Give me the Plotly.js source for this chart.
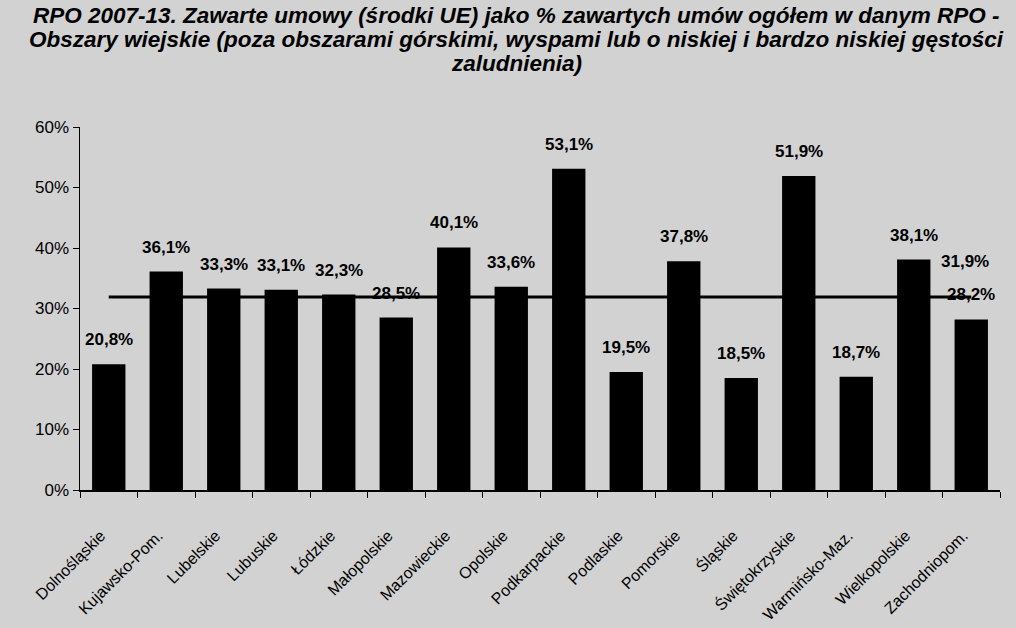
<!DOCTYPE html>
<html>
<head>
<meta charset="utf-8">
<script src="https://cdn.plot.ly/plotly-3.0.1.min.js"></script>
<style>
html,body{margin:0;padding:0;background:#d2d2d2;}
#chart{width:1016px;height:628px;}
</style>
</head>
<body>
<div id="chart"></div>
<script>
const categories = ["Dolnośląskie","Kujawsko-Pom.","Lubelskie","Lubuskie","Łódzkie","Małopolskie","Mazowieckie","Opolskie","Podkarpackie","Podlaskie","Pomorskie","Śląskie","Świętokrzyskie","Warmińsko-Maz.","Wielkopolskie","Zachodniopom."];
const values = [20.8,36.1,33.3,33.1,32.3,28.5,40.1,33.6,53.1,19.5,37.8,18.5,51.9,18.7,38.1,28.2];
const averageValues = [31.9,31.9,31.9,31.9,31.9,31.9,31.9,31.9,31.9,31.9,31.9,31.9,31.9,31.9,31.9,31.9];
const yTickVals = [0,10,20,30,40,50,60];
const yTickText = ["0%","10%","20%","30%","40%","50%","60%"];
const titleLines = [
  "RPO 2007-13. Zawarte umowy (środki UE) jako % zawartych umów ogółem w danym RPO -",
  "Obszary wiejskie (poza obszarami górskimi, wyspami lub o niskiej i bardzo niskiej gęstości",
  "zaludnienia)"
];

const font = "Liberation Sans, Arial, sans-serif";
const fmt = v => v.toFixed(1).replace(".", ",") + "%";

const bars = {
  type: "bar",
  x: categories,
  y: values,
  marker: {color: "#000000"},
  width: 0.58,
  hoverinfo: "skip"
};

const avgLine = {
  type: "scatter",
  mode: "lines",
  x: categories,
  y: averageValues,
  line: {color: "#000000", width: 3},
  hoverinfo: "skip"
};

const last = categories.length - 1;

// plot area: left 80, right 1000, top 127, bottom 490
const plotH = 628 - 127 - 138;
const plotW = 1016 - 80 - 16;
const titleCentersPx = [16, 40, 63];
const titleCenterX = (516 - 80) / plotW;

const annotations = [];
titleLines.forEach((t, i) => {
  annotations.push({
    text: t,
    xref: "paper", yref: "paper",
    x: titleCenterX, y: (490 - titleCentersPx[i]) / plotH,
    xanchor: "center", yanchor: "middle",
    showarrow: false,
    font: {family: font, size: 22.5, color: "#000000", weight: "bold", style: "italic"}
  });
});
categories.forEach((c, i) => {
  annotations.push({
    x: c, y: values[i], xref: "x", yref: "y",
    text: fmt(values[i]),
    showarrow: false,
    xanchor: "center", yanchor: "bottom",
    yshift: 13,
    font: {family: font, size: 17, color: "#000000", weight: "bold"}
  });
});
annotations.push({
  x: categories[last], y: averageValues[last], xref: "x", yref: "y",
  text: fmt(averageValues[last]),
  showarrow: false,
  xanchor: "center", yanchor: "bottom",
  xshift: -6, yshift: 24,
  font: {family: font, size: 17, color: "#000000", weight: "bold"}
});

const layout = {
  width: 1016,
  height: 628,
  paper_bgcolor: "#d2d2d2",
  plot_bgcolor: "rgba(0,0,0,0)",
  showlegend: false,
  margin: {l: 80, r: 16, t: 127, b: 138},
  xaxis: {
    type: "category",
    tickangle: -45,
    ticks: "outside",
    tickson: "boundaries",
    ticklen: 6,
    tickcolor: "#000000",
    showline: true,
    linecolor: "#000000",
    linewidth: 2,
    showgrid: false,
    ticklabelstandoff: 28,
    ticklabelshift: -8,
    tickfont: {family: font, size: 16, color: "#000000"}
  },
  yaxis: {
    range: [0, 60],
    tickvals: yTickVals,
    ticktext: yTickText,
    tickmode: "array",
    ticks: "outside",
    ticklen: 6,
    tickcolor: "#000000",
    showline: true,
    linecolor: "#000000",
    linewidth: 1.5,
    showgrid: false,
    zeroline: false,
    tickfont: {family: font, size: 17, color: "#000000"}
  },
  annotations: annotations
};

Plotly.newPlot("chart", [bars, avgLine], layout, {displayModeBar: false, staticPlot: true});
</script>
</body>
</html>
